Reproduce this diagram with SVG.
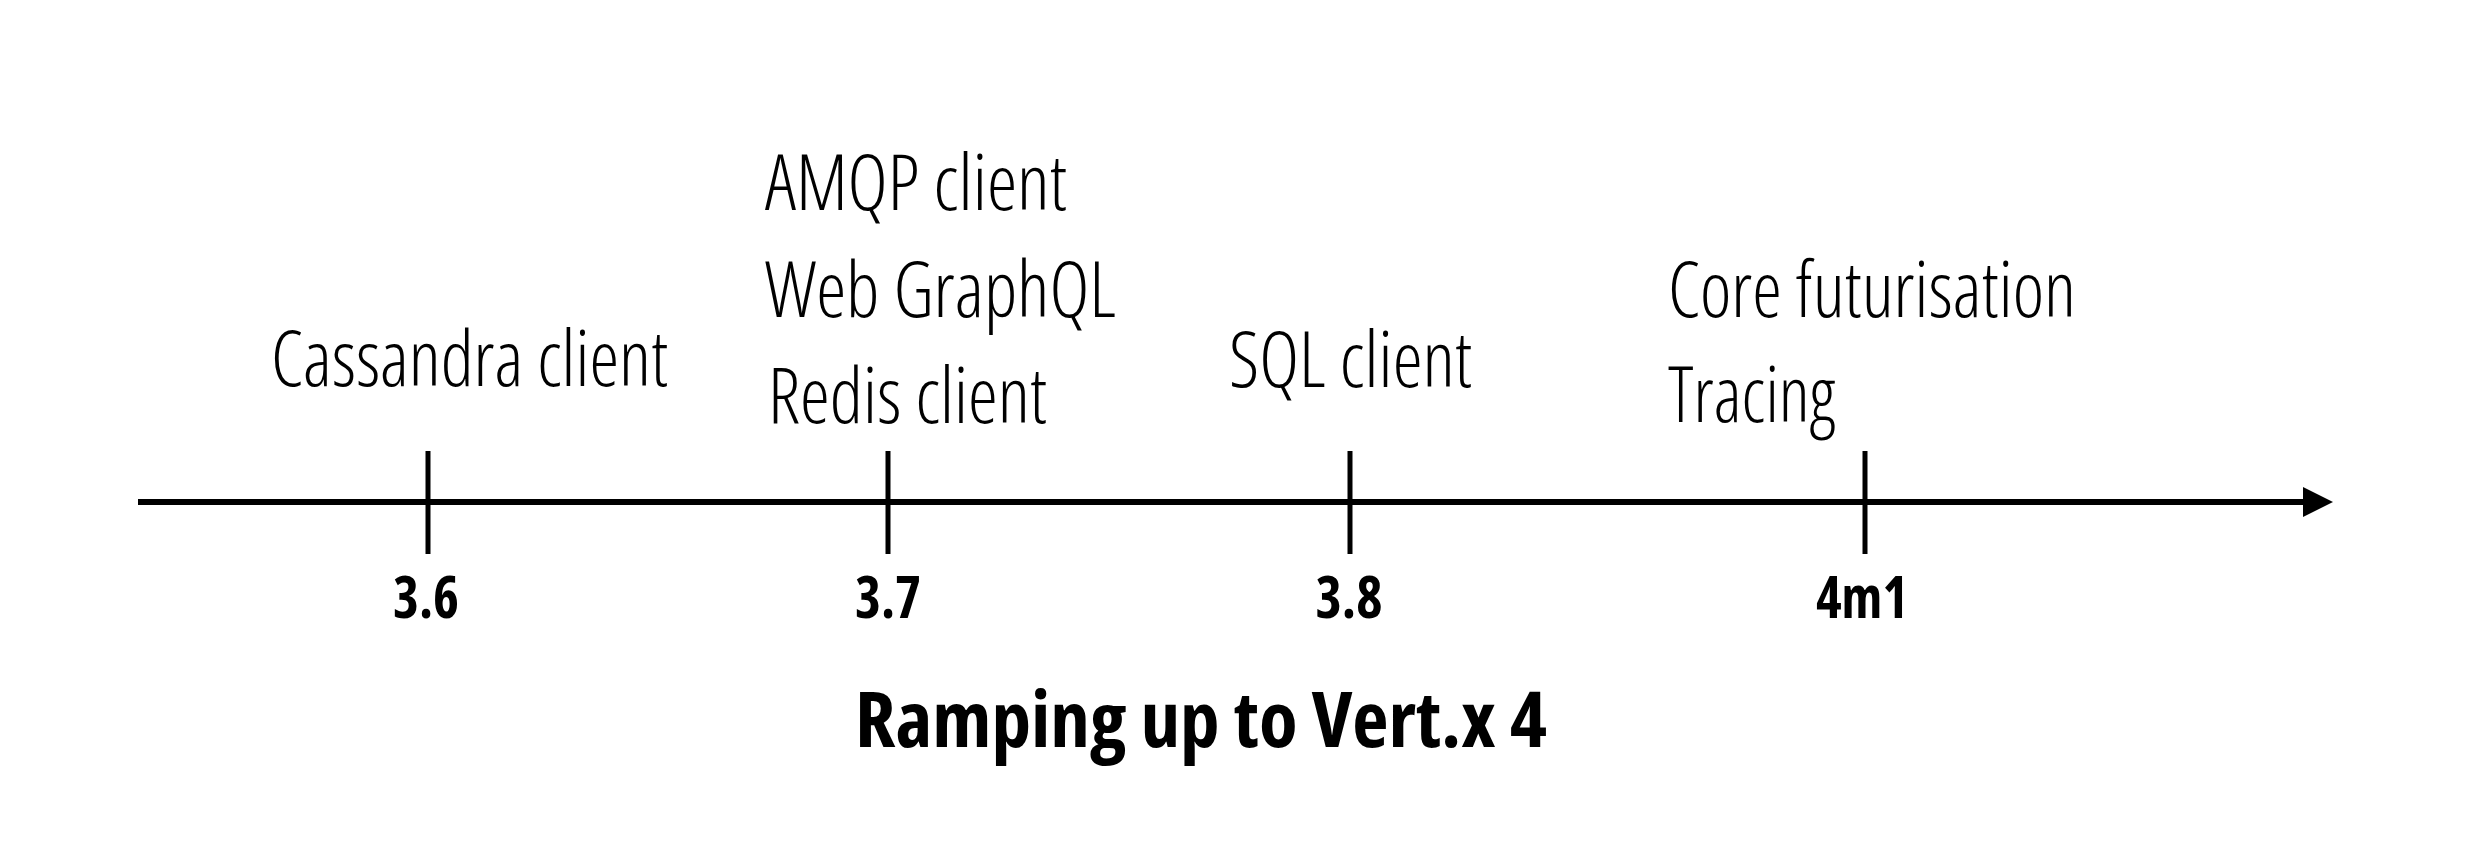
<svg xmlns="http://www.w3.org/2000/svg" width="2474" height="842" viewBox="0 0 2474 842">
<style>
.lt{font-family:"Open Sans","Liberation Sans",sans-serif;font-weight:300;font-stretch:condensed;font-size:78px;fill:#000}
.bd{font-family:"Open Sans","Liberation Sans",sans-serif;font-weight:700;font-stretch:condensed;font-size:59px;fill:#000;text-anchor:middle}
.tt{font-family:"Open Sans","Liberation Sans",sans-serif;font-weight:700;font-stretch:condensed;font-size:77px;fill:#000;text-anchor:middle}
.tick{stroke:#000;stroke-width:5}
</style>
<defs>
<marker id="arr" markerUnits="userSpaceOnUse" markerWidth="32" markerHeight="32" refX="0" refY="15" orient="auto">
<path d="M0,0 L30,15 L0,30 Z" fill="#000"/>
</marker>
</defs>
<rect width="2474" height="842" fill="#fff"/>
<g id="connectors">
<line x1="138" y1="502" x2="2303" y2="502" stroke="#000" stroke-width="6" marker-end="url(#arr)"/>
</g>
<g id="v36">
<line class="tick" x1="428" y1="451" x2="428" y2="554"/>
<text class="bd" x="426" y="618" textLength="66" lengthAdjust="spacingAndGlyphs">3.6</text>
<text class="lt" x="271" y="386" textLength="397" lengthAdjust="spacingAndGlyphs">Cassandra client</text>
</g>
<g id="v37">
<line class="tick" x1="888" y1="451" x2="888" y2="554"/>
<text class="bd" x="888" y="618" textLength="66" lengthAdjust="spacingAndGlyphs">3.7</text>
<text class="lt" x="765" y="210" textLength="302" lengthAdjust="spacingAndGlyphs">AMQP client</text>
<text class="lt" x="765" y="317" textLength="351" lengthAdjust="spacingAndGlyphs">Web GraphQL</text>
<text class="lt" x="768" y="423" textLength="279" lengthAdjust="spacingAndGlyphs">Redis client</text>
</g>
<g id="v38">
<line class="tick" x1="1350" y1="451" x2="1350" y2="554"/>
<text class="bd" x="1349" y="618" textLength="67" lengthAdjust="spacingAndGlyphs">3.8</text>
<text class="lt" x="1229" y="387" textLength="243" lengthAdjust="spacingAndGlyphs">SQL client</text>
</g>
<g id="v4m1">
<line class="tick" x1="1865" y1="451" x2="1865" y2="554"/>
<text class="bd" x="1862" y="618" textLength="92" lengthAdjust="spacingAndGlyphs">4m1</text>
<text class="lt" x="1668" y="317" textLength="408" lengthAdjust="spacingAndGlyphs">Core futurisation</text>
<text class="lt" x="1668" y="422" textLength="167" lengthAdjust="spacingAndGlyphs">Tracing</text>
</g>
<g id="title">
<text class="tt" x="1201" y="747" textLength="692" lengthAdjust="spacingAndGlyphs">Ramping up to Vert.x 4</text>
</g>
</svg>
